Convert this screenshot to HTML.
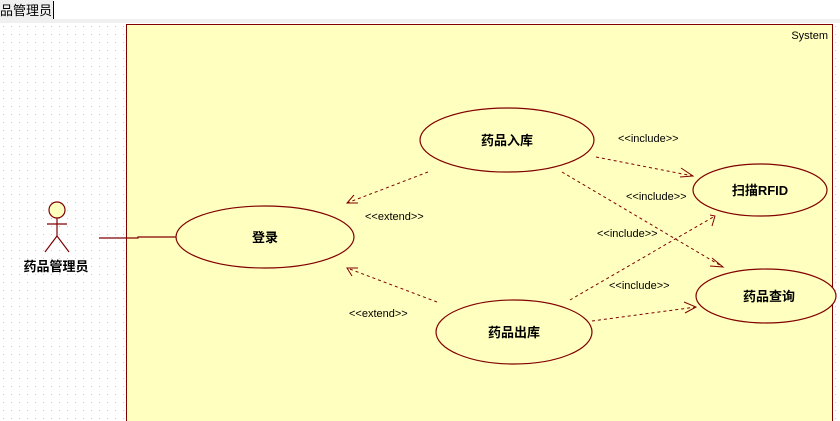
<!DOCTYPE html>
<html><head><meta charset="utf-8"><style>
html,body{margin:0;padding:0;width:840px;height:421px;overflow:hidden;background:#fff}
svg{display:block}
.t{font-family:"Liberation Sans","Noto Sans CJK SC",sans-serif}
</style></head><body>
<svg width="840" height="421" viewBox="0 0 840 421" xmlns="http://www.w3.org/2000/svg">
<defs>
<pattern id="dots" width="8" height="8" patternUnits="userSpaceOnUse" x="3" y="2">
<rect x="0" y="0" width="1" height="1" fill="#c8c8c8"/>
</pattern>
</defs>
<rect x="0" y="0" width="840" height="21" fill="#fff"/>
<rect x="0" y="19" width="840" height="4" fill="#f0f0f0"/>
<rect x="0" y="0" width="53" height="19" fill="#f0f0f0"/>
<text x="0" y="15" class="t" font-size="13" fill="#000">品管理员</text>
<line x1="53.5" y1="1" x2="53.5" y2="19" stroke="#000"/>
<rect x="0" y="23" width="840" height="398" fill="url(#dots)"/>
<rect x="126.5" y="24.5" width="706" height="400" fill="#ffffc0" stroke="#800000"/>
<text x="828" y="39" class="t" font-size="11" text-anchor="end" fill="#000">System</text>
<g stroke="#800000" fill="#ffffc0" stroke-width="1.2">
<circle cx="57" cy="210" r="8"/>
<line x1="57" y1="218" x2="57" y2="237"/>
<line x1="47" y1="224" x2="67" y2="224"/>
<line x1="57" y1="236" x2="45" y2="252"/>
<line x1="57" y1="236" x2="69" y2="252"/>
<polyline fill="none" points="99,238 138,238 138,237 176,237"/>
<ellipse cx="507" cy="140" rx="87" ry="32"/>
<ellipse cx="265" cy="237" rx="89" ry="31"/>
<ellipse cx="514" cy="332" rx="78" ry="32"/>
<ellipse cx="760" cy="190" rx="67" ry="26"/>
<ellipse cx="766" cy="296" rx="70" ry="27"/>
</g>
<g stroke="#800000" fill="none" stroke-width="1" stroke-dasharray="3,3">
<line x1="596" y1="157" x2="693" y2="176"/>
<line x1="562" y1="172" x2="723" y2="267"/>
<line x1="570" y1="300" x2="715" y2="216"/>
<line x1="592" y1="321" x2="696" y2="307"/>
<line x1="428" y1="172" x2="347" y2="203"/>
<line x1="437" y1="302" x2="347" y2="268"/>
</g>
<g stroke="#800000" fill="none" stroke-width="1">
<polyline points="681,168 693,176 680,177"/>
<polyline points="712,258 723,267 710,266"/>
<polyline points="710,215 715,216 712,226"/>
<polyline points="684,302 696,307 685,313"/>
<polyline points="354,195 347,203 358,203"/>
<polyline points="358,268 347,268 352,276"/>
</g>
<g class="t" font-size="11" fill="#000">
<text x="618" y="142">&lt;&lt;include&gt;&gt;</text>
<text x="626" y="200">&lt;&lt;include&gt;&gt;</text>
<text x="597" y="237">&lt;&lt;include&gt;&gt;</text>
<text x="609" y="289">&lt;&lt;include&gt;&gt;</text>
<text x="365" y="220">&lt;&lt;extend&gt;&gt;</text>
<text x="349" y="317">&lt;&lt;extend&gt;&gt;</text>
</g>
<g class="t" font-size="13" font-weight="bold" fill="#000" text-anchor="middle">
<text x="507" y="145">药品入库</text>
<text x="265" y="242">登录</text>
<text x="514" y="337">药品出库</text>
<text x="760" y="195">扫描RFID</text>
<text x="769" y="301">药品查询</text>
<text x="56" y="271">药品管理员</text>
</g>
</svg>
</body></html>
